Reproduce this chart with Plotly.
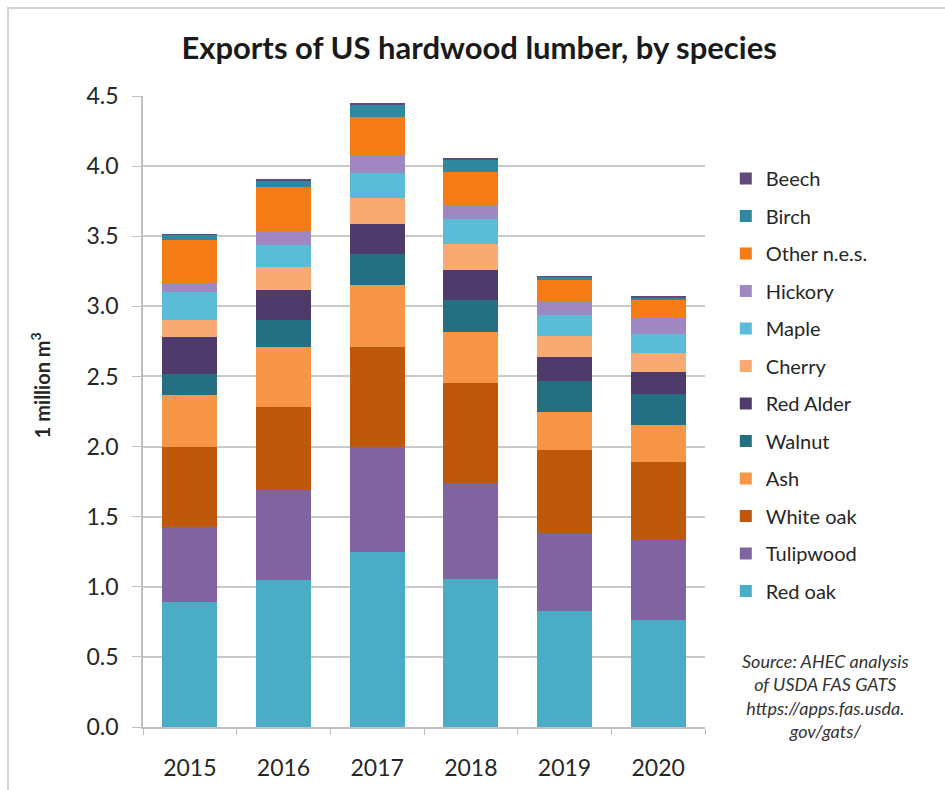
import plotly.graph_objects as go

# US hardwood lumber exports by species, million m3
years = ["2015", "2016", "2017", "2018", "2019", "2020"]

red_oak = [0.895, 1.045, 1.245, 1.057, 0.825, 0.765]
tulipwood = [0.530, 0.645, 0.755, 0.683, 0.555, 0.570]
white_oak = [0.575, 0.595, 0.710, 0.710, 0.595, 0.555]
ash = [0.370, 0.425, 0.440, 0.365, 0.275, 0.265]
walnut = [0.150, 0.190, 0.220, 0.230, 0.220, 0.220]
red_alder = [0.260, 0.220, 0.220, 0.215, 0.170, 0.155]
cherry = [0.120, 0.160, 0.180, 0.185, 0.150, 0.135]
maple = [0.200, 0.160, 0.180, 0.175, 0.145, 0.135]
hickory = [0.070, 0.100, 0.130, 0.100, 0.105, 0.120]
other_nes = [0.300, 0.310, 0.270, 0.240, 0.150, 0.125]
birch = [0.040, 0.050, 0.090, 0.090, 0.020, 0.020]
beech = [0.004, 0.005, 0.005, 0.004, 0.003, 0.003]

# stacking order, bottom to top
series = [
    ("Red oak", red_oak, "#4BACC6"),
    ("Tulipwood", tulipwood, "#8064A2"),
    ("White oak", white_oak, "#C0580C"),
    ("Ash", ash, "#F79646"),
    ("Walnut", walnut, "#246F81"),
    ("Red Alder", red_alder, "#4E3A6B"),
    ("Cherry", cherry, "#F9AA72"),
    ("Maple", maple, "#5BBCD8"),
    ("Hickory", hickory, "#9F88C2"),
    ("Other n.e.s.", other_nes, "#F47B16"),
    ("Birch", birch, "#2F889E"),
    ("Beech", beech, "#604A7B"),
]

FONT = "Lato"
TEXT = "#262626"
GRID = "#C9C9CC"

fig = go.Figure()
n = len(series)
for i, (name, vals, color) in enumerate(series):
    fig.add_trace(go.Bar(
        x=years, y=vals, name=name, legendgroup=name,
        legendrank=n - i,  # top of the stack listed first
        marker=dict(color=color, line=dict(width=0)),
    ))

fig.update_layout(
    width=945, height=790,
    barmode="stack", bargap=0.41,
    paper_bgcolor="white", plot_bgcolor="white",
    margin=dict(l=143, r=240, t=96, b=63),
    font=dict(family=FONT, color=TEXT),
    showlegend=True,
    legend=dict(
        traceorder="grouped", tracegroupgap=8.5,
        x=1.037, xanchor="left", y=0.90, yanchor="top",
        font=dict(size=20, family=FONT, color=TEXT),
        itemwidth=30, bgcolor="rgba(0,0,0,0)",
    ),
    title=dict(
        text="<b>Exports of US hardwood lumber, by species</b>",
        x=0.507, xanchor="center", y=0.939, yanchor="middle",
        font=dict(size=31, family=FONT, color="#1a1a1a"),
    ),
)

fig.update_yaxes(
    range=[0, 4.5], dtick=0.5, tickformat=".1f", automargin=False,
    showgrid=True, gridcolor=GRID, gridwidth=1.5,
    showline=True, linecolor="#BFBFBF", linewidth=1.5,
    ticks="outside", ticklen=9, tickcolor="#BFBFBF",
    ticklabelstandoff=9,
    tickfont=dict(size=23, family=FONT, color=TEXT),
    zeroline=False,
)
fig.update_xaxes(
    automargin=False,
    showline=True, linecolor="#BFBFBF", linewidth=1.5,
    ticks="outside", tickson="boundaries", ticklen=6, tickcolor="#BFBFBF",
    ticklabelstandoff=20,
    tickfont=dict(size=23, family=FONT, color=TEXT),
)

# axis title
fig.add_annotation(
    text="<b>1 million m<sup>3</sup></b>", textangle=-90,
    xref="paper", yref="paper", x=-0.183, y=0.542,
    xanchor="center", yanchor="middle", showarrow=False,
    font=dict(size=20, family=FONT, color=TEXT),
)

# source note
fig.add_annotation(
    text="<i>Source: AHEC analysis<br>of USDA FAS GATS<br>https://apps.fas.usda.<br>gov/gats/</i>",
    xref="paper", yref="paper", x=1.215, y=0.049,
    xanchor="center", yanchor="middle", align="center", showarrow=False,
    font=dict(size=18, family=FONT, color="#333333"),
)

# outer frame (left and top edges visible)
fig.add_shape(
    type="rect", xref="paper", yref="paper",
    x0=-0.2402, y0=-0.2, x1=1.5, y1=1.1395,
    line=dict(color="#D4D4D4", width=2), fillcolor="rgba(0,0,0,0)", layer="below",
)

fig.write_html("out.html")
